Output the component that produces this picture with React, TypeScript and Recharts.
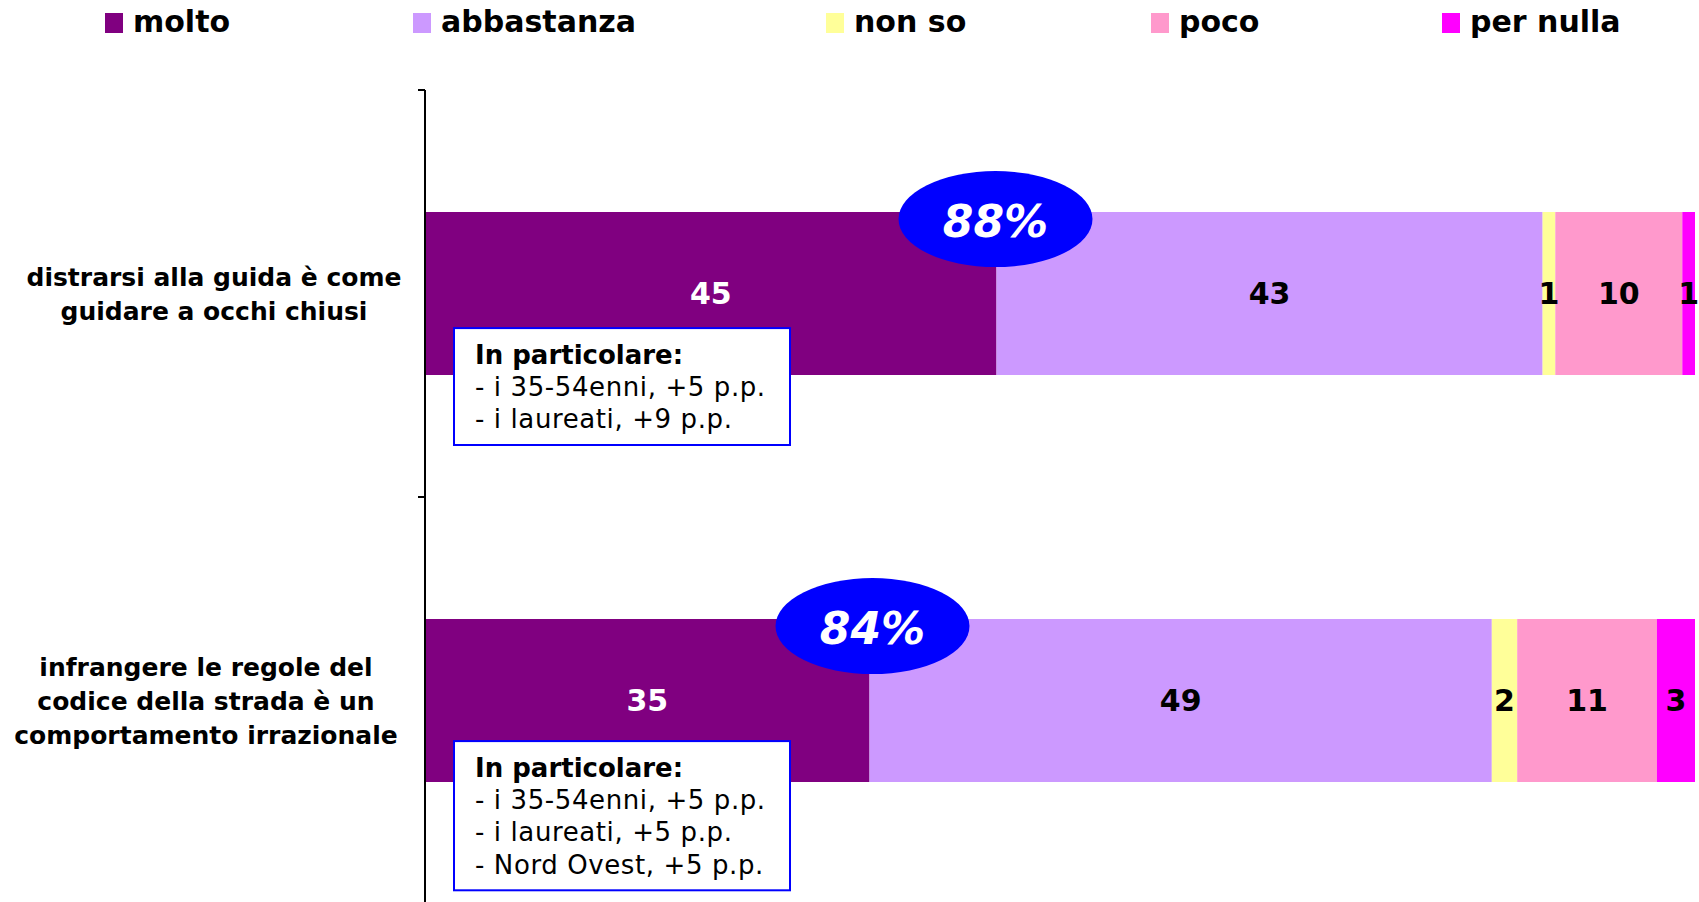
import { BarChart, Bar, XAxis, YAxis, Legend, LabelList } from 'recharts'

const categories = [
  'distrarsi alla guida è come\nguidare a occhi chiusi',
  'infrangere le regole del\ncodice della strada è un\ncomportamento irrazionale',
]
const molto = [45, 35]
const abbastanza = [43, 49]
const nonSo = [1, 2]
const poco = [10, 11]
const perNulla = [1, 3]

const notesTitle = 'In particolare:'
const notes = [
  ['- i 35-54enni, +5 p.p.', '- i laureati, +9 p.p.'],
  ['- i 35-54enni, +5 p.p.', '- i laureati, +5 p.p.', '- Nord Ovest, +5 p.p.'],
]

const series = [
  { key: 'molto', name: 'molto', color: '#800080', text: '#ffffff', values: molto },
  { key: 'abbastanza', name: 'abbastanza', color: '#cc99ff', text: '#000000', values: abbastanza },
  { key: 'nonSo', name: 'non so', color: '#ffff99', text: '#000000', values: nonSo },
  { key: 'poco', name: 'poco', color: '#ff99cc', text: '#000000', values: poco },
  { key: 'perNulla', name: 'per nulla', color: '#ff00ff', text: '#000000', values: perNulla },
]

const data = categories.map((category, i) => {
  const row: Record<string, any> = { category }
  series.forEach((s) => (row[s.key] = s.values[i]))
  return row
})

// layout
const W = 1699
const H = 910
const LEGEND_H = 44
const MARGIN = { top: 46, right: 4, bottom: 6, left: 0 }
const AXIS_W = 425
const BAND = (H - MARGIN.top - LEGEND_H - MARGIN.bottom) / categories.length
const LEGEND_X = [105, 413, 826, 1151, 1442]
const LABEL_CX = [214, 206]
const NOTE_DY = [116, 122]
const FONT = '"DejaVu Sans", Verdana, sans-serif'

function CategoryTick({ y, payload, index }: any) {
  const lines = String(payload.value).split('\n')
  const lh = 34
  const y0 = y - ((lines.length - 1) * lh) / 2
  const cx = LABEL_CX[index ?? payload.index ?? 0]
  return (
    <g>
      <line x1={AXIS_W - 7} x2={AXIS_W} y1={y - BAND / 2} y2={y - BAND / 2} stroke="#000" strokeWidth={2} />
      <text textAnchor="middle" fontSize={25} fontWeight="bold" fill="#000" fontFamily={FONT}>
        {lines.map((l, i) => (
          <tspan key={i} x={cx} y={y0 + i * lh} dy="0.36em">
            {l}
          </tspan>
        ))}
      </text>
    </g>
  )
}

function LegendRow() {
  return (
    <div style={{ position: 'relative', width: W, height: LEGEND_H, fontFamily: FONT }}>
      {series.map((s, i) => (
        <div key={s.key} style={{ position: 'absolute', left: LEGEND_X[i], top: 0, height: LEGEND_H }}>
          <div style={{ position: 'absolute', left: 0, top: 13, width: 18, height: 20, background: s.color }} />
          <span
            style={{
              position: 'absolute',
              left: 28,
              top: 4,
              fontSize: 30,
              fontWeight: 'bold',
              color: '#000',
              whiteSpace: 'nowrap',
              lineHeight: '36px',
            }}
          >
            {s.name}
          </span>
        </div>
      ))}
    </div>
  )
}

const valueLabel = (color: string) => (props: any) => {
  const { x, y, width, height, value } = props
  return (
    <text
      x={x + width / 2}
      y={y + height / 2}
      textAnchor="middle"
      dominantBaseline="central"
      fontSize={30}
      fontWeight="bold"
      fill={color}
      fontFamily={FONT}
    >
      {value}
    </text>
  )
}

const totalBubble = (props: any) => {
  const { x, y, index } = props
  const total = molto[index] + abbastanza[index]
  const cx = x + (index === 0 ? -1 : 3)
  return (
    <g>
      <ellipse cx={cx} cy={y + 7} rx={97} ry={48} fill="#0000ff" />
      <text
        x={cx}
        y={y + 9}
        textAnchor="middle"
        dominantBaseline="central"
        fontSize={44}
        fontWeight="bold"
        fontStyle="italic"
        fill="#ffffff"
        fontFamily={FONT}
      >
        {total}%
      </text>
    </g>
  )
}

const noteBox = (props: any) => {
  const { x, y, index } = props
  const lines = notes[index]
  const bx = x + 29
  const by = y + NOTE_DY[index]
  const lh = 32.3
  const h = 20 + (lines.length + 1) * lh
  return (
    <g>
      <rect x={bx} y={by} width={336} height={h} fill="#ffffff" stroke="#0000ff" strokeWidth={2} />
      <text x={bx + 21} y={by + 26.5} dominantBaseline="central" fontSize={26} fontWeight="bold" fill="#000" fontFamily={FONT}>
        {notesTitle}
      </text>
      {lines.map((l, i) => (
        <text
          key={i}
          x={bx + 21}
          y={by + 26.5 + (i + 1) * lh}
          dominantBaseline="central"
          fontSize={26}
          letterSpacing={0.6}
          fill="#000"
          fontFamily={FONT}
        >
          {l}
        </text>
      ))}
    </g>
  )
}

export default function App() {
  return (
    <div style={{ position: 'absolute', left: 0, top: 0, width: W, height: 902, overflow: 'hidden', background: '#fff' }}>
      <BarChart width={W} height={H} data={data} layout="vertical" margin={MARGIN} barCategoryGap="30%">
        <Legend
          verticalAlign="top"
          content={() => <LegendRow />}
          wrapperStyle={{ top: 0, left: 0, width: W, height: LEGEND_H }}
        />
        <XAxis type="number" domain={[0, 100]} hide />
        <YAxis
          type="category"
          dataKey="category"
          width={AXIS_W}
          axisLine={{ stroke: '#000', strokeWidth: 2 }}
          tickLine={false}
          tick={(p: any) => <CategoryTick {...p} />}
        />
        {series.map((s) => (
          <Bar key={s.key} dataKey={s.key} name={s.name} stackId="a" fill={s.color} isAnimationActive={false}>
            <LabelList dataKey={s.key} content={valueLabel(s.text)} />
            {s.key === 'molto' && <LabelList dataKey={s.key} content={noteBox} />}
            {s.key === 'abbastanza' && <LabelList dataKey={s.key} content={totalBubble} />}
          </Bar>
        ))}
      </BarChart>
    </div>
  )
}
